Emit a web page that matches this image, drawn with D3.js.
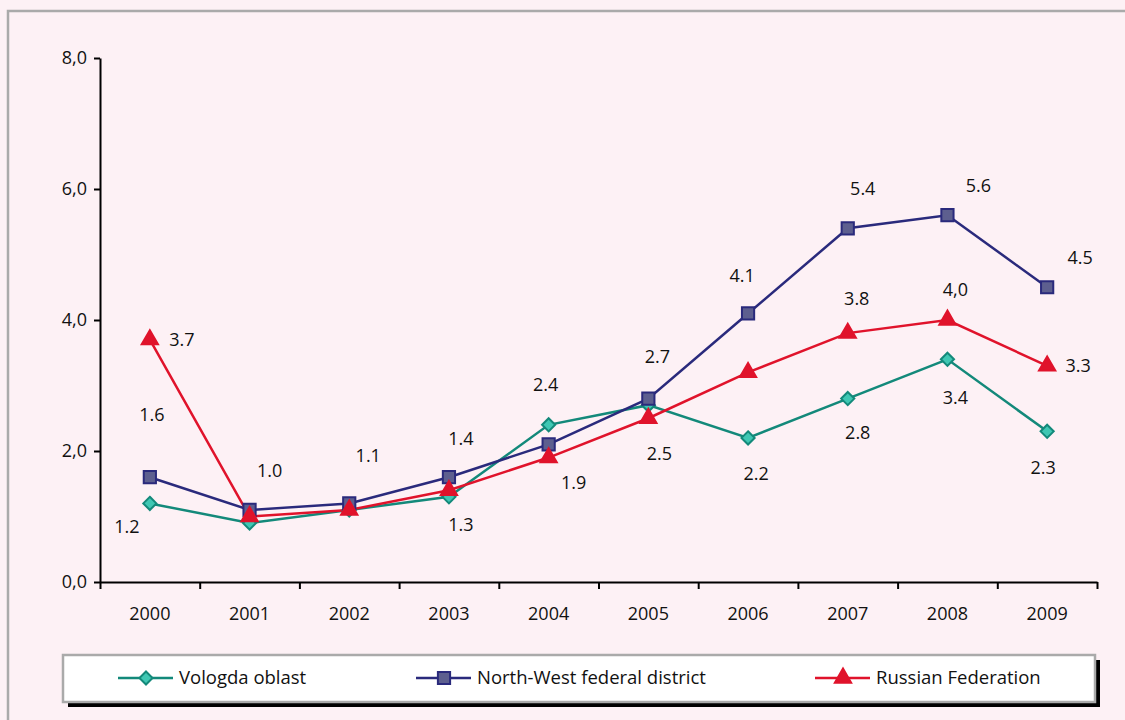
<!DOCTYPE html>
<html>
<head>
<meta charset="utf-8">
<script src="https://cdn.jsdelivr.net/npm/d3@7"></script>
<style>
  body { margin: 0; background: #fdf1f5; }
  svg { display: block; font-family: "Open Sans", sans-serif; }
  .axis text { font-size: 18px; fill: #111; font-family: "Open Sans", sans-serif; }
  .axis path, .axis line { stroke: #000; stroke-width: 2; }
</style>
</head>
<body>
<script>
// data
var years = ['2000','2001','2002','2003','2004','2005','2006','2007','2008','2009'];
var vologda = [1.2, 0.9, 1.1, 1.3, 2.4, 2.7, 2.2, 2.8, 3.4, 2.3];
var northWest = [1.6, 1.1, 1.2, 1.6, 2.1, 2.8, 4.1, 5.4, 5.6, 4.5];
var russia = [3.7, 1.0, 1.1, 1.4, 1.9, 2.5, 3.2, 3.8, 4.0, 3.3];
var yTicks = [0, 2, 4, 6, 8];
var seriesNames = ['Vologda oblast', 'North-West federal district', 'Russian Federation'];

// value labels as printed on the chart (series index, year index, text)
var valueLabels = [
  [2, 0, '3.7'], [1, 0, '1.6'], [0, 0, '1.2'],
  [2, 1, '1.0'], [2, 2, '1.1'], [2, 3, '1.4'], [0, 3, '1.3'],
  [0, 4, '2.4'], [2, 4, '1.9'], [0, 5, '2.7'], [2, 5, '2.5'],
  [1, 6, '4.1'], [0, 6, '2.2'], [1, 7, '5.4'], [2, 7, '3.8'], [0, 7, '2.8'],
  [1, 8, '5.6'], [2, 8, '4,0'], [0, 8, '3.4'],
  [1, 9, '4.5'], [2, 9, '3.3'], [0, 9, '2.3']
];
// pixel nudges for those labels, same order
var labelNudge = [
  [32, 0], [2, -63], [-23, 23],
  [20, -46], [19, -54], [12, -52], [12, 28],
  [-3, -40], [25, 25], [9, -48], [11, 35],
  [-6, -38], [8, 36], [15, -40], [9, -34], [10, 34],
  [31, -30], [8, -30], [8, 38],
  [33, -30], [31, 0], [-4, 36]
];

var w = 1125, h = 720;
var svg = d3.select('body').append('svg').attr('width', w).attr('height', h);

// outer frame
svg.append('rect').attr('x', 8).attr('y', 11).attr('width', w).attr('height', h)
  .attr('fill', '#fdf1f5').attr('stroke', '#aaa').attr('stroke-width', 2.5);

var plt = {left: 100, right: 1097, top: 58, bottom: 582};

var x = d3.scaleBand().domain(years).range([plt.left, plt.right]);
var xEdge = d3.scaleLinear().domain([0, years.length]).range([plt.left, plt.right]);
var y = d3.scaleLinear().domain([0, 8]).range([plt.bottom, plt.top]);

// y axis
var yAxisG = svg.append('g').attr('class', 'axis')
  .attr('transform', 'translate(' + plt.left + ',0)')
  .call(d3.axisLeft(y).tickValues(yTicks).tickSize(6).tickSizeOuter(0)
    .tickFormat(function(d){ return d.toFixed(1).replace('.', ','); }));
yAxisG.selectAll('.tick text').attr('x', -13);

// x axis: ticks on category boundaries
svg.append('g').attr('class', 'axis')
  .attr('transform', 'translate(0,' + plt.bottom + ')')
  .call(d3.axisBottom(xEdge).ticks(years.length).tickSize(7).tickSizeOuter(0).tickFormat(''));
var xLab = svg.append('g').attr('class', 'axis')
  .attr('transform', 'translate(0,' + plt.bottom + ')')
  .call(d3.axisBottom(x).tickSize(0));
xLab.select('.domain').remove();
xLab.selectAll('.tick text').attr('y', 25);

var styles = [
  {line: '#13897a', fill: '#3fc7b3', stroke: '#13897a', sym: d3.symbolDiamond2, size: 110},
  {line: '#2a2a7c', fill: '#5d5f8f', stroke: '#2a2a7c', sym: d3.symbolSquare2, size: 190},
  {line: '#e0132b', fill: '#e0132b', stroke: '#e0132b', sym: d3.symbolTriangle2, size: 190}
];
var allSeries = [vologda, northWest, russia];

var line = d3.line()
  .x(function(d, i){ return x(years[i]) + x.bandwidth() / 2; })
  .y(function(d){ return y(d); });

// lines first, then markers, RF on top
var order = [0, 1, 2];
order.forEach(function(s){
  svg.append('path').datum(allSeries[s])
    .attr('d', line).attr('fill', 'none')
    .attr('stroke', styles[s].line).attr('stroke-width', 2.5);
});
order.forEach(function(s){
  svg.selectAll('.pt' + s).data(allSeries[s]).enter().append('path')
    .attr('class', 'pt' + s)
    .attr('transform', function(d, i){
      return 'translate(' + [x(years[i]) + x.bandwidth() / 2, y(d)] + ')';
    })
    .attr('d', d3.symbol().type(styles[s].sym).size(styles[s].size))
    .attr('fill', styles[s].fill).attr('stroke', styles[s].stroke).attr('stroke-width', 2);
});

// value labels
svg.selectAll('.vlabel').data(valueLabels).enter().append('text')
  .attr('class', 'vlabel')
  .attr('x', function(d, i){ return x(years[d[1]]) + x.bandwidth() / 2 + labelNudge[i][0]; })
  .attr('y', function(d, i){ return y(allSeries[d[0]][d[1]]) + labelNudge[i][1]; })
  .attr('dy', '0.35em').attr('text-anchor', 'middle')
  .style('font-size', '18px').attr('fill', '#111')
  .text(function(d){ return d[2]; });

// legend
var lg = {x: 63, y: 655, w: 1032, h: 47};
svg.append('rect').attr('x', lg.x + 5).attr('y', lg.y + 5).attr('width', lg.w).attr('height', lg.h)
  .attr('fill', '#000');
svg.append('rect').attr('x', lg.x).attr('y', lg.y).attr('width', lg.w).attr('height', lg.h)
  .attr('fill', '#fff').attr('stroke', '#aaa').attr('stroke-width', 2.5);

var legendX = [118, 416, 815];
seriesNames.forEach(function(name, s){
  var g = svg.append('g').attr('transform', 'translate(' + [legendX[s], lg.y + 23] + ')');
  g.append('line').attr('x1', 0).attr('x2', 55).attr('stroke', styles[s].line).attr('stroke-width', 2.5);
  g.append('path').attr('transform', 'translate(28,0)')
    .attr('d', d3.symbol().type(styles[s].sym).size(styles[s].size))
    .attr('fill', styles[s].fill).attr('stroke', styles[s].stroke).attr('stroke-width', 2);
  g.append('text').attr('x', 61).attr('dy', '0.35em')
    .style('font-size', '18.5px').attr('fill', '#111').text(name);
});
</script>
</body>
</html>
